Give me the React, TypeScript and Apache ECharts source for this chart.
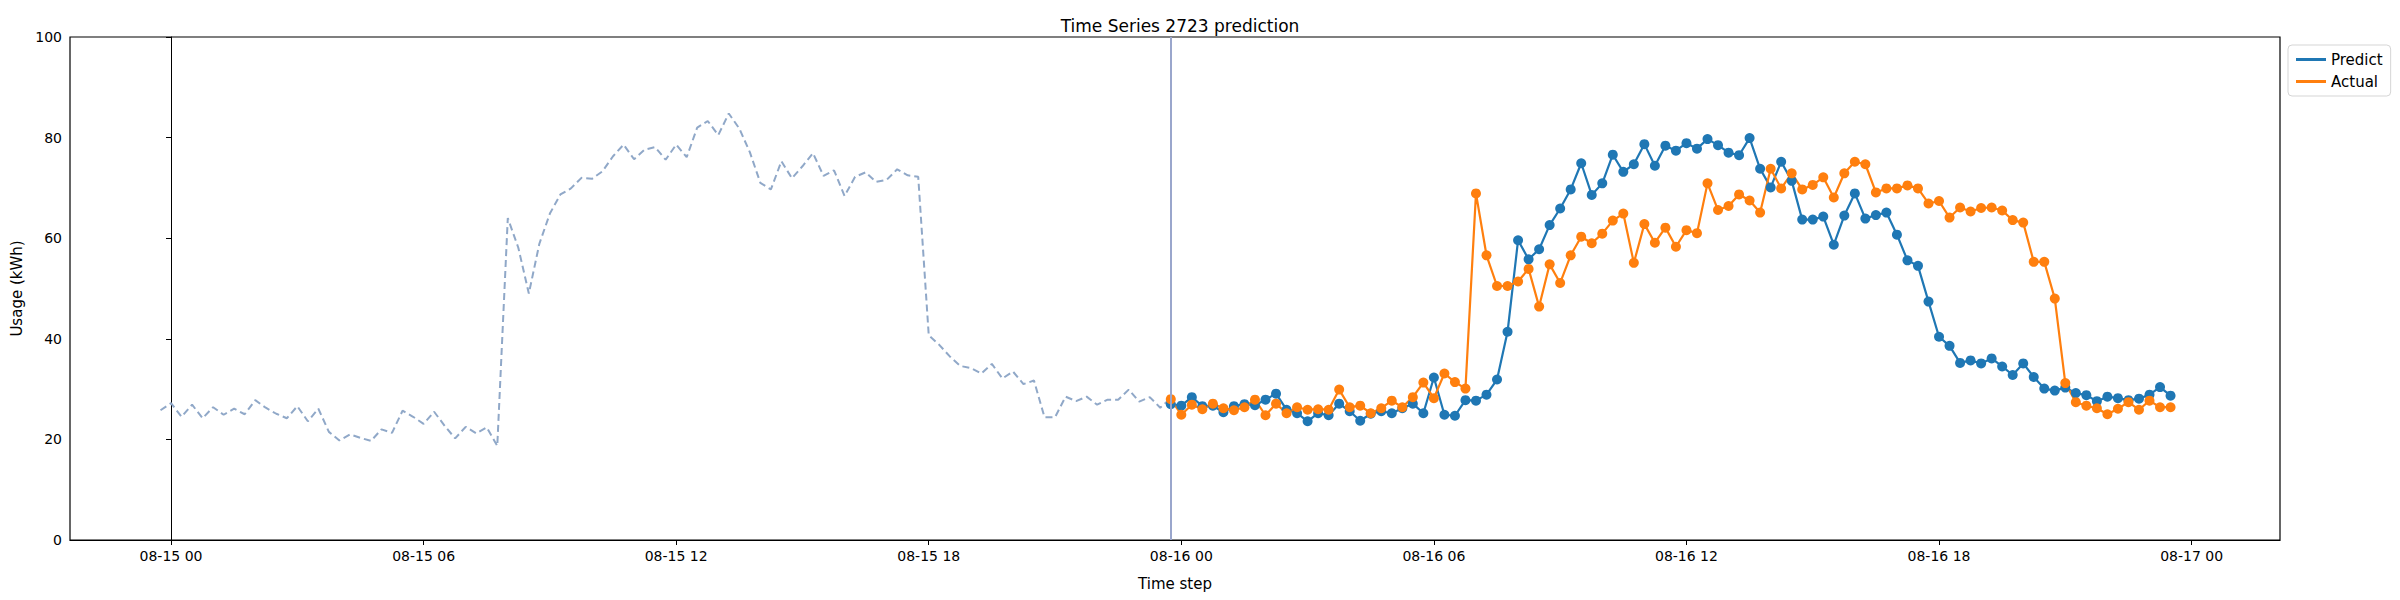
import React, { useEffect, useRef } from "react";
import * as echarts from "echarts";

// hours relative to 08-15 00:00, 15-minute steps
const historyStart = -0.25;
const forecastStart = 23.75;
const stepHours = 0.25;

const historyValues = [
  25.8, 27.2, 24.5, 26.9, 24.2, 26.4, 24.9, 26.1, 25.0, 27.8, 26.3, 25.1, 24.2, 26.6, 23.6, 26.1,
  21.5, 19.8, 21.0, 20.3, 19.7, 22.0, 21.3, 25.7, 24.5, 23.1, 25.5, 22.7, 20.2, 22.5, 21.2, 22.4,
  18.7, 64.0, 58.1, 49.0, 58.9, 64.9, 68.7, 69.9, 72.0, 71.8, 73.3, 76.3, 78.6, 75.7, 77.6, 78.1,
  75.6, 78.6, 76.1, 82.0, 83.3, 80.5, 84.8, 81.8, 77.1, 71.0, 69.7, 75.3, 71.9, 74.3, 76.9, 72.4,
  73.5, 68.4, 72.2, 73.1, 71.2, 71.6, 73.7, 72.5, 72.2, 40.7, 38.8, 36.5, 34.6, 34.2, 33.1, 35.0,
  32.1, 33.5, 31.0, 31.7, 24.4, 24.4, 28.5, 27.6, 28.5, 26.9, 27.9, 27.9, 29.9, 27.5, 28.4, 26.3,
  28.2,
];

const predictValues = [
  27.0, 26.7, 28.4, 26.6, 26.7, 25.4, 26.6, 27.0, 26.8, 27.9, 29.1, 25.9, 25.2, 23.6, 25.2, 24.8,
  27.1, 25.6, 23.7, 25.1, 25.6, 25.2, 26.2, 27.1, 25.2, 32.3, 24.9, 24.7, 27.8, 27.7, 28.9, 31.9,
  41.4, 59.6, 55.8, 57.8, 62.6, 65.9, 69.7, 74.9, 68.6, 70.9, 76.6, 73.2, 74.7, 78.7, 74.4, 78.4,
  77.4, 78.9, 77.8, 79.7, 78.5, 77.0, 76.5, 79.9, 73.8, 70.1, 75.2, 71.4, 63.7, 63.7, 64.3, 58.7,
  64.5, 68.9, 63.9, 64.6, 65.1, 60.7, 55.6, 54.5, 47.4, 40.4, 38.6, 35.2, 35.7, 35.1, 36.1, 34.5,
  32.8, 35.1, 32.4, 30.1, 29.7, 30.3, 29.2, 28.8, 27.6, 28.5, 28.2, 27.8, 28.1, 28.9, 30.4, 28.7,
];

const actualValues = [
  28.0, 24.9, 26.9, 26.0, 27.1, 26.2, 25.8, 26.4, 27.9, 24.8, 27.1, 25.2, 26.4, 25.9, 26.0, 25.9,
  29.9, 26.4, 26.7, 25.2, 26.2, 27.7, 26.4, 28.4, 31.3, 28.2, 33.1, 31.4, 30.1, 68.9, 56.6, 50.5,
  50.5, 51.4, 53.9, 46.4, 54.8, 51.1, 56.6, 60.3, 59.0, 60.9, 63.5, 64.9, 55.1, 62.8, 59.1, 62.1,
  58.3, 61.6, 61.0, 70.9, 65.6, 66.4, 68.7, 67.5, 65.1, 73.8, 69.9, 72.9, 69.7, 70.6, 72.1, 68.1,
  72.9, 75.2, 74.7, 69.1, 69.9, 69.9, 70.5, 69.9, 66.9, 67.4, 64.1, 66.1, 65.3, 66.0, 66.1, 65.5,
  63.6, 63.1, 55.3, 55.3, 48.0, 31.2, 27.4, 26.7, 26.2, 25.0, 26.1, 27.4, 25.9, 27.7, 26.4, 26.4,
];

const tickHours = [0, 6, 12, 18, 24, 30, 36, 42, 48];
const tickLabels = [
  "08-15 00", "08-15 06", "08-15 12", "08-15 18",
  "08-16 00", "08-16 06", "08-16 12", "08-16 18", "08-17 00",
];

const withTime = (start: number, values: number[]) =>
  values.map((v, i) => [start + i * stepHours, v]);

export default function App() {
  const chartRef = useRef<HTMLDivElement>(null);

  useEffect(() => {
    document.body.style.margin = "0";
    if (!chartRef.current) return;
    const chart = echarts.init(chartRef.current, undefined, { renderer: "svg" });
    const font = "DejaVu Sans";

    chart.setOption({
      animation: false,
      textStyle: { fontFamily: font },
      title: {
        text: "Time Series 2723 prediction",
        left: 1175,
        textAlign: "center",
        top: 12,
        textStyle: { fontSize: 17, fontWeight: "normal", color: "#000", fontFamily: font },
      },
      legend: {
        orient: "vertical",
        left: 2288,
        top: 45,
        padding: [7, 8, 7, 8],
        itemGap: 7,
        itemWidth: 30,
        itemHeight: 3,
        borderColor: "#d5d5d5",
        borderWidth: 1,
        borderRadius: 4,
        backgroundColor: "#fff",
        textStyle: { fontSize: 15, color: "#000", fontFamily: font },
        data: [
          { name: "Predict", icon: "rect" },
          { name: "Actual", icon: "rect" },
        ],
      },
      grid: {
        left: 70,
        right: 120,
        top: 37,
        bottom: 60,
        show: true,
        borderColor: "#000",
        borderWidth: 1.2,
      },
      xAxis: {
        type: "value",
        min: -2.4,
        max: 50.1,
        name: "Time step",
        nameLocation: "middle",
        nameGap: 36,
        nameTextStyle: { fontSize: 15, color: "#000" },
        splitLine: { show: false },
        axisLine: { show: true, lineStyle: { color: "#000" } },
        axisTick: { show: true, customValues: tickHours, length: 5, lineStyle: { color: "#000" } },
        axisLabel: {
          customValues: tickHours,
          fontSize: 14,
          color: "#000",
          margin: 9,
          formatter: (v: number) => tickLabels[tickHours.indexOf(v)] ?? "",
        },
      },
      yAxis: {
        type: "value",
        min: 0,
        max: 100,
        interval: 20,
        name: "Usage (kWh)",
        nameLocation: "middle",
        nameGap: 44,
        nameTextStyle: { fontSize: 15, color: "#000" },
        splitLine: { show: false },
        axisLine: { show: true, lineStyle: { color: "#000" } },
        axisTick: { show: true, length: 5, lineStyle: { color: "#000" } },
        axisLabel: { fontSize: 14, color: "#000", margin: 8 },
      },
      series: [
        {
          name: "History",
          type: "line",
          data: withTime(historyStart, historyValues),
          showSymbol: false,
          lineStyle: { color: "#90a8c8", width: 2, type: [7, 4] },
          itemStyle: { color: "#90a8c8" },
          markLine: {
            silent: true,
            symbol: "none",
            label: { show: false },
            lineStyle: { color: "#9aa6cc", width: 2, type: "solid" },
            data: [{ xAxis: forecastStart }],
          },
        },
        {
          name: "Predict",
          type: "line",
          data: withTime(forecastStart, predictValues),
          symbol: "circle",
          symbolSize: 10,
          lineStyle: { color: "#1f77b4", width: 2.2 },
          itemStyle: { color: "#1f77b4" },
        },
        {
          name: "Actual",
          type: "line",
          data: withTime(forecastStart, actualValues),
          symbol: "circle",
          symbolSize: 10,
          lineStyle: { color: "#ff7f0e", width: 2.2 },
          itemStyle: { color: "#ff7f0e" },
        },
      ],
    });

    return () => {
      chart.dispose();
    };
  }, []);

  return <div ref={chartRef} style={{ width: "2400px", height: "600px" }} />;
}
